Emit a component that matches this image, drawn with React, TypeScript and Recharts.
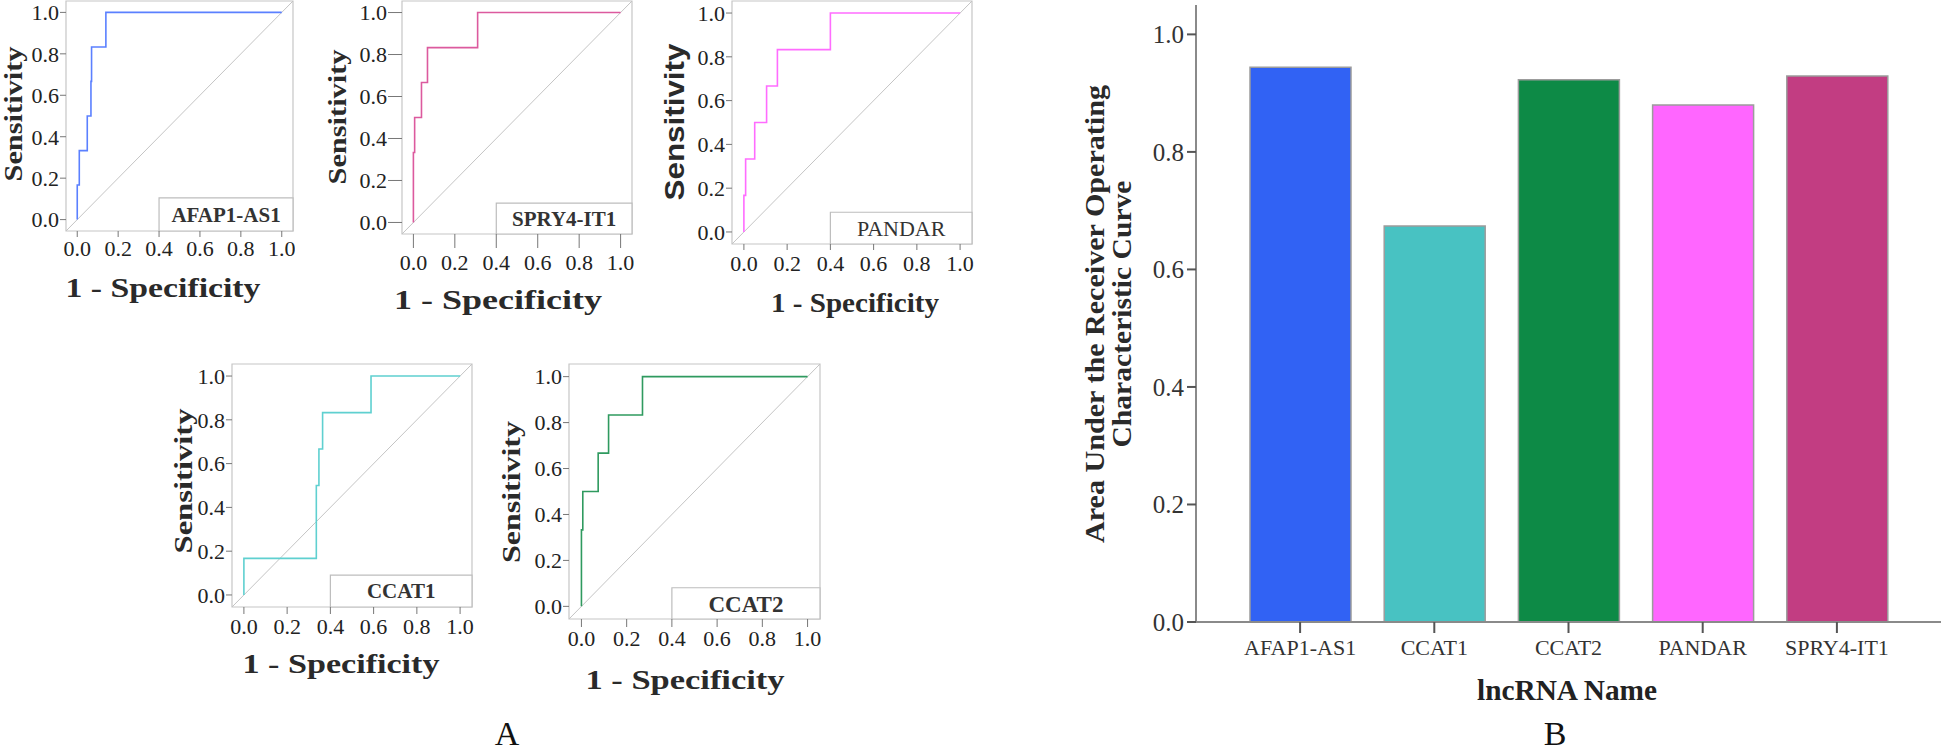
import { LineChart, Line, XAxis, YAxis, ReferenceArea, ReferenceLine, BarChart, Bar, Cell } from "recharts";

const SERIF = "'Liberation Serif', 'Times New Roman', serif";
const SANS = "'Liberation Sans', Arial, sans-serif";

// ROC curves (1 - specificity, sensitivity)
const afapFpr = [0, 0, 0.01, 0.049, 0.067, 0.07, 0.14, 1];
const afapTpr = [0, 0.167, 0.333, 0.5, 0.667, 0.833, 1, 1];
const spryFpr = [0, 0, 0.006, 0.039, 0.068, 0.31, 1];
const spryTpr = [0, 0.333, 0.5, 0.667, 0.833, 1, 1];
const pandarFpr = [0, 0, 0.008, 0.05, 0.105, 0.155, 0.4, 1];
const pandarTpr = [0, 0.167, 0.333, 0.5, 0.667, 0.833, 1, 1];
const ccat1Fpr = [0, 0, 0.335, 0.347, 0.364, 0.588, 1];
const ccat1Tpr = [0, 0.167, 0.5, 0.667, 0.833, 1, 1];
const ccat2Fpr = [0, 0, 0.006, 0.074, 0.12, 0.27, 1];
const ccat2Tpr = [0, 0.333, 0.5, 0.667, 0.833, 1, 1];

const rocTicks = [0, 0.2, 0.4, 0.6, 0.8, 1.0];

// AUC bar chart
const lncNames = ["AFAP1-AS1", "CCAT1", "CCAT2", "PANDAR", "SPRY4-IT1"];
const aucValues = [0.944, 0.674, 0.923, 0.88, 0.929];
const barColors = ["#3162f4", "#48c2c2", "#0d8a46", "#ff66ff", "#c23d82"];
const aucTicks = [0, 0.2, 0.4, 0.6, 0.8, 1.0];

const D: [number, number] = [-0.055, 1.055];
const YW = 85;
const XH = 85;
const MT = 2;
const MR = 2;

const panels = [
  {
    name: "AFAP1-AS1", fpr: afapFpr, tpr: afapTpr, color: "#5b80ff", bold: true,
    l: 66, t: 1, r: 293, b: 231, tick: 6, xm: 3,
    sens: { x: 13, y: 114, len: 135, sans: false }, spec: { x: 163, y: 287, len: 195 },
    boxTop: 0.105, boxFont: 21,
  },
  {
    name: "SPRY4-IT1", fpr: spryFpr, tpr: spryTpr, color: "#dc5a9e", bold: true,
    l: 402, t: 1, r: 632, b: 234, tick: 14, xm: 6,
    sens: { x: 337, y: 117, len: 135, sans: false }, spec: { x: 498, y: 299, len: 208 },
    boxTop: 0.092, boxFont: 21,
  },
  {
    name: "PANDAR", fpr: pandarFpr, tpr: pandarTpr, color: "#ff6cff", bold: false,
    l: 732, t: 1, r: 972, b: 244, tick: 6, xm: 5,
    sens: { x: 675, y: 122, len: 157, sans: true }, spec: { x: 855, y: 302, len: 168 },
    boxTop: 0.09, boxFont: 22,
  },
  {
    name: "CCAT1", fpr: ccat1Fpr, tpr: ccat1Tpr, color: "#5fd0d0", bold: true,
    l: 232, t: 364, r: 472, b: 607, tick: 7, xm: 4,
    sens: { x: 183, y: 481, len: 145, sans: false }, spec: { x: 341, y: 663, len: 197 },
    boxTop: 0.091, boxFont: 21,
  },
  {
    name: "CCAT2", fpr: ccat2Fpr, tpr: ccat2Tpr, color: "#2f9a5f", bold: true,
    l: 569, t: 364, r: 820, b: 619, tick: 8, xm: 3,
    sens: { x: 511, y: 492, len: 142, sans: false }, spec: { x: 685, y: 679, len: 199 },
    boxTop: 0.081, boxFont: 23,
  },
];

type PanelCfg = (typeof panels)[number];

function RocPanel({ p }: { p: PanelCfg }) {
  const w = p.r - p.l;
  const h = p.b - p.t;
  const left = p.l - YW;
  const top = p.t - MT;
  const data = p.fpr.map((x, i) => ({ fpr: x, tpr: p.tpr[i] }));
  const sx = p.sens.x - left;
  const sy = p.sens.y - top;

  const specLabel = () => (
    <text x={p.spec.x - left} y={p.spec.y - top} textAnchor="middle" dominantBaseline="central"
      fontFamily={SERIF} fontWeight="bold" fontSize={28} fill="#2a2a2a"
      textLength={p.spec.len} lengthAdjust="spacingAndGlyphs">1 - Specificity</text>
  );
  const sensLabel = () => (
    <text x={sx} y={sy} transform={`rotate(-90 ${sx} ${sy})`} textAnchor="middle" dominantBaseline="central"
      fontFamily={p.sens.sans ? SANS : SERIF} fontWeight="bold" fontSize={p.sens.sans ? 27 : 26} fill="#2a2a2a"
      textLength={p.sens.len} lengthAdjust="spacingAndGlyphs">Sensitivity</text>
  );

  return (
    <div style={{ position: "absolute", left, top }}>
      <LineChart width={w + YW + MR} height={h + MT + XH} data={data} margin={{ top: MT, right: MR, left: 0, bottom: 0 }}>
        <XAxis dataKey="fpr" type="number" domain={D} ticks={rocTicks} allowDataOverflow interval={0}
          height={XH} tickSize={p.tick} tickMargin={p.xm} axisLine={false} tickLine={{ stroke: "#777" }}
          tick={{ fill: "#222", fontSize: 22, fontFamily: SERIF }} tickFormatter={(v: number) => v.toFixed(1)}
          label={specLabel} />
        <YAxis type="number" domain={D} ticks={rocTicks} allowDataOverflow interval={0}
          width={YW} tickSize={p.tick === 14 ? 14 : 6} tickMargin={1} axisLine={false} tickLine={{ stroke: "#777" }}
          tick={{ fill: "#222", fontSize: 22, fontFamily: SERIF }} tickFormatter={(v: number) => v.toFixed(1)}
          label={sensLabel} />
        <ReferenceArea x1={D[0]} x2={D[1]} y1={D[0]} y2={D[1]} fill="none" fillOpacity={0} stroke="#c6c6c6" strokeWidth={1.2} />
        <ReferenceLine segment={[{ x: D[0], y: D[0] }, { x: D[1], y: D[1] }]} stroke="#c4c4c4" strokeWidth={1} />
        <ReferenceArea x1={0.4} x2={D[1]} y1={D[0]} y2={p.boxTop} fill="#ffffff" fillOpacity={1} stroke="#bdbdbd" strokeWidth={1.2}
          label={{ value: p.name, position: "center", fill: "#333", fontSize: p.boxFont, fontWeight: p.bold ? "bold" : "normal", fontFamily: SERIF }} />
        <Line dataKey="tpr" type="stepAfter" stroke={p.color} strokeWidth={1.6} dot={false} activeDot={false} isAnimationActive={false} />
      </LineChart>
    </div>
  );
}

const BAR_LEFT = 1071;

function AucChart() {
  const barData = lncNames.map((n, i) => ({ name: n, auc: aucValues[i] }));
  const yLabel = () => (
    <g>
      <text x={24} y={314} transform="rotate(-90 24 314)" textAnchor="middle" dominantBaseline="central"
        fontFamily={SERIF} fontWeight="bold" fontSize={27} fill="#2a2a2a" textLength={458} lengthAdjust="spacingAndGlyphs">
        Area Under the Receiver Operating
      </text>
      <text x={51} y={314} transform="rotate(-90 51 314)" textAnchor="middle" dominantBaseline="central"
        fontFamily={SERIF} fontWeight="bold" fontSize={27} fill="#2a2a2a" textLength={267} lengthAdjust="spacingAndGlyphs">
        Characteristic Curve
      </text>
    </g>
  );
  const xLabel = () => (
    <text x={1567 - BAR_LEFT} y={690} textAnchor="middle" dominantBaseline="central"
      fontFamily={SERIF} fontWeight="bold" fontSize={29} fill="#222" textLength={180} lengthAdjust="spacingAndGlyphs">
      lncRNA Name
    </text>
  );
  return (
    <div style={{ position: "absolute", left: BAR_LEFT, top: 0 }}>
      <BarChart width={872} height={712} data={barData} margin={{ top: 5, right: 2, left: 0, bottom: 0 }}>
        <XAxis dataKey="name" height={90} padding={{ left: 37, right: 37 }} interval={0}
          tickSize={11} tickMargin={6} axisLine={{ stroke: "#8a8a8a", strokeWidth: 2 }} tickLine={{ stroke: "#555", strokeWidth: 2 }}
          tick={{ fill: "#333", fontSize: 22, fontFamily: SERIF }} label={xLabel} />
        <XAxis xAxisId="top" orientation="top" dataKey="name" height={0} tick={false} tickLine={false}
          axisLine={{ stroke: "#d0d0d0", strokeWidth: 2 }} />
        <YAxis type="number" domain={[0, 1.05]} ticks={aucTicks} interval={0} width={125} tickSize={9} tickMargin={3}
          axisLine={{ stroke: "#8a8a8a", strokeWidth: 2 }} tickLine={{ stroke: "#555", strokeWidth: 2 }}
          tick={{ fill: "#333", fontSize: 25, fontFamily: SERIF }} tickFormatter={(v: number) => v.toFixed(1)}
          label={yLabel} />
        <YAxis yAxisId="right" orientation="right" type="number" domain={[0, 1.05]} width={0} tick={false} tickLine={false}
          axisLine={{ stroke: "#d0d0d0", strokeWidth: 2 }} />
        <Bar dataKey="auc" barSize={101} stroke="#9c9c9c" strokeWidth={1.5} isAnimationActive={false}>
          {barData.map((d, i) => (
            <Cell key={d.name} fill={barColors[i]} />
          ))}
        </Bar>
      </BarChart>
    </div>
  );
}

export default function App() {
  return (
    <div style={{ position: "absolute", left: 0, top: 0, width: 1943, height: 753, background: "#fff", overflow: "hidden" }}>
      {panels.map((p) => (
        <RocPanel key={p.name} p={p} />
      ))}
      <AucChart />
      <svg width={1943} height={753} style={{ position: "absolute", left: 0, top: 0, pointerEvents: "none" }}>
        <text x={507} y={745} textAnchor="middle" fontFamily={SERIF} fontSize={34} fill="#111">A</text>
        <text x={1555} y={745} textAnchor="middle" fontFamily={SERIF} fontSize={34} fill="#111">B</text>
      </svg>
    </div>
  );
}
